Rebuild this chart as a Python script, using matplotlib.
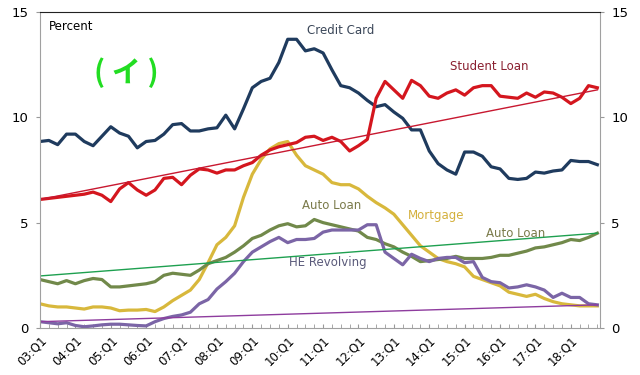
import numpy as np
import matplotlib
matplotlib.use("Agg")
import matplotlib.pyplot as plt
from matplotlib.ticker import MultipleLocator

plt.rcParams['font.family'] = ['DejaVu Sans', 'Noto Sans CJK JP']

# quarterly data, 03:Q1 .. 18:Q4 (percent)
quarters = [f"{y:02d}:Q{q}" for y in range(3, 19) for q in range(1, 5)]
year_labels = [f"{y:02d}:Q1" for y in range(3, 19)]

credit_card = [8.85, 8.9, 8.7, 9.2, 9.2, 8.85, 8.65, 9.1, 9.55, 9.25, 9.1, 8.55, 8.85, 8.9, 9.2, 9.65,
               9.7, 9.35, 9.35, 9.45, 9.5, 10.1, 9.45, 10.4, 11.4, 11.7, 11.85, 12.6, 13.7, 13.7, 13.15, 13.25,
               13.05, 12.25, 11.5, 11.4, 11.15, 10.8, 10.5, 10.6, 10.25, 9.95, 9.4, 9.4, 8.4, 7.8, 7.5, 7.3,
               8.35, 8.35, 8.15, 7.65, 7.55, 7.1, 7.05, 7.1, 7.4, 7.35, 7.45, 7.5, 7.95, 7.9, 7.9, 7.75]
student_loan = [6.1, 6.15, 6.2, 6.25, 6.3, 6.35, 6.45, 6.3, 6.0, 6.6, 6.9, 6.55, 6.3, 6.55, 7.1, 7.15,
                6.8, 7.25, 7.55, 7.5, 7.35, 7.5, 7.5, 7.7, 7.85, 8.2, 8.45, 8.6, 8.7, 8.8, 9.05, 9.1,
                8.9, 9.05, 8.85, 8.4, 8.65, 8.95, 10.9, 11.7, 11.3, 10.9, 11.75, 11.5, 11.0, 10.9, 11.15, 11.3,
                11.05, 11.4, 11.5, 11.5, 11.0, 10.95, 10.9, 11.15, 10.95, 11.2, 11.15, 10.95, 10.65, 10.9, 11.5, 11.4]
mortgage = [1.15, 1.05, 1.0, 1.0, 0.95, 0.9, 1.0, 1.0, 0.95, 0.82, 0.85, 0.85, 0.88, 0.78, 1.0, 1.3,
            1.55, 1.8, 2.3, 3.1, 3.95, 4.3, 4.85, 6.2, 7.3, 8.0, 8.5, 8.75, 8.85, 8.2, 7.7, 7.5,
            7.3, 6.9, 6.8, 6.8, 6.6, 6.25, 5.95, 5.7, 5.4, 4.9, 4.4, 3.9, 3.6, 3.3, 3.15, 3.05,
            2.9, 2.45, 2.3, 2.15, 2.0, 1.7, 1.6, 1.5, 1.6, 1.4, 1.25, 1.15, 1.1, 1.05, 1.05, 1.05]
auto_loan = [2.3, 2.2, 2.1, 2.25, 2.1, 2.25, 2.35, 2.3, 1.95, 1.95, 2.0, 2.05, 2.1, 2.2, 2.5, 2.6,
             2.55, 2.5, 2.75, 3.05, 3.2, 3.35, 3.6, 3.9, 4.25, 4.4, 4.65, 4.85, 4.95, 4.8, 4.85, 5.15,
             5.0, 4.9, 4.8, 4.7, 4.6, 4.3, 4.2, 4.0, 3.85, 3.6, 3.4, 3.15, 3.2, 3.25, 3.3, 3.4,
             3.3, 3.3, 3.3, 3.35, 3.45, 3.45, 3.55, 3.65, 3.8, 3.85, 3.95, 4.05, 4.2, 4.15, 4.3, 4.5]
he_revolving = [0.3, 0.25, 0.2, 0.25, 0.12, 0.06, 0.1, 0.15, 0.18, 0.18, 0.15, 0.12, 0.1, 0.3, 0.45, 0.55,
                0.62, 0.75, 1.15, 1.35, 1.85, 2.2, 2.6, 3.15, 3.6, 3.85, 4.1, 4.3, 4.05, 4.2, 4.2, 4.25,
                4.55, 4.65, 4.65, 4.65, 4.65, 4.9, 4.9, 3.6, 3.3, 3.0, 3.5, 3.3, 3.15, 3.3, 3.35, 3.35,
                3.1, 3.15, 2.4, 2.2, 2.15, 1.9, 1.95, 2.05, 1.95, 1.8, 1.45, 1.65, 1.45, 1.45, 1.15, 1.1]

# trend lines (start and end values)
student_trend = [6.1, 11.3]
auto_trend = [2.47, 4.5]
he_trend = [0.3, 1.1]

x = np.arange(len(quarters))
x_ends = [x[0], x[-1]]

fig = plt.figure(figsize=(6.4, 3.75), dpi=100)
ax = fig.add_axes([0.0625, 0.1253, 0.875, 0.843])

lw = 2.3
ax.plot(x, mortgage, color='#d8b83c', lw=lw)
ax.plot(x, auto_loan, color='#71894a', lw=lw)
ax.plot(x, he_revolving, color='#7b65a6', lw=lw)
ax.plot(x, credit_card, color='#1f3b5e', lw=lw)
ax.plot(x, student_loan, color='#d4161e', lw=lw)
ax.plot(x_ends, student_trend, color='#c81830', lw=1.0)
ax.plot(x_ends, auto_trend, color='#1ea050', lw=1.0)
ax.plot(x_ends, he_trend, color='#8e3c9e', lw=1.0)

ax.set_xlim(0, 63.3)
ax.set_ylim(0, 15)
ax.set_xticks(x[::4])
ax.set_xticklabels(year_labels, rotation=45, ha='right', rotation_mode='anchor', fontsize=8.5)
ax.xaxis.set_minor_locator(MultipleLocator(1))
ax.tick_params(axis='x', which='both', direction='in', length=3, color='#999999', pad=4)
ax.set_yticks([0, 5, 10, 15])
ax.tick_params(axis='y', which='both', length=3, color='#999999', labelsize=9.5, pad=5,
               left=True, right=True, labelleft=True, labelright=True)

for side in ['left', 'right', 'bottom']:
    ax.spines[side].set_color('#a0a0a0')
ax.spines['top'].set_color('#222222')

ax.text(1.0, 14.3, 'Percent', fontsize=8.5, va='center', ha='left')
ax.text(9.7, 12.1, '( イ )', fontsize=21, fontweight='bold', color='#22dd22', ha='center', va='center',
        family=['Noto Sans CJK JP', 'DejaVu Sans'])
ax.text(34, 14.1, 'Credit Card', fontsize=8.5, color='#3a4658', ha='center', va='center')
ax.text(50.8, 12.4, 'Student Loan', fontsize=8.5, color='#8a2030', ha='center', va='center')
ax.text(33, 5.8, 'Auto Loan', fontsize=8.5, color='#7a7a4a', ha='center', va='center')
ax.text(44.8, 5.35, 'Mortgage', fontsize=8.5, color='#d4b03c', ha='center', va='center')
ax.text(53.8, 4.5, 'Auto Loan', fontsize=8.5, color='#7a7a4a', ha='center', va='center')
ax.text(32.5, 3.1, 'HE Revolving', fontsize=8.5, color='#5a5a7a', ha='center', va='center')

fig.savefig('out.png', dpi=100)
